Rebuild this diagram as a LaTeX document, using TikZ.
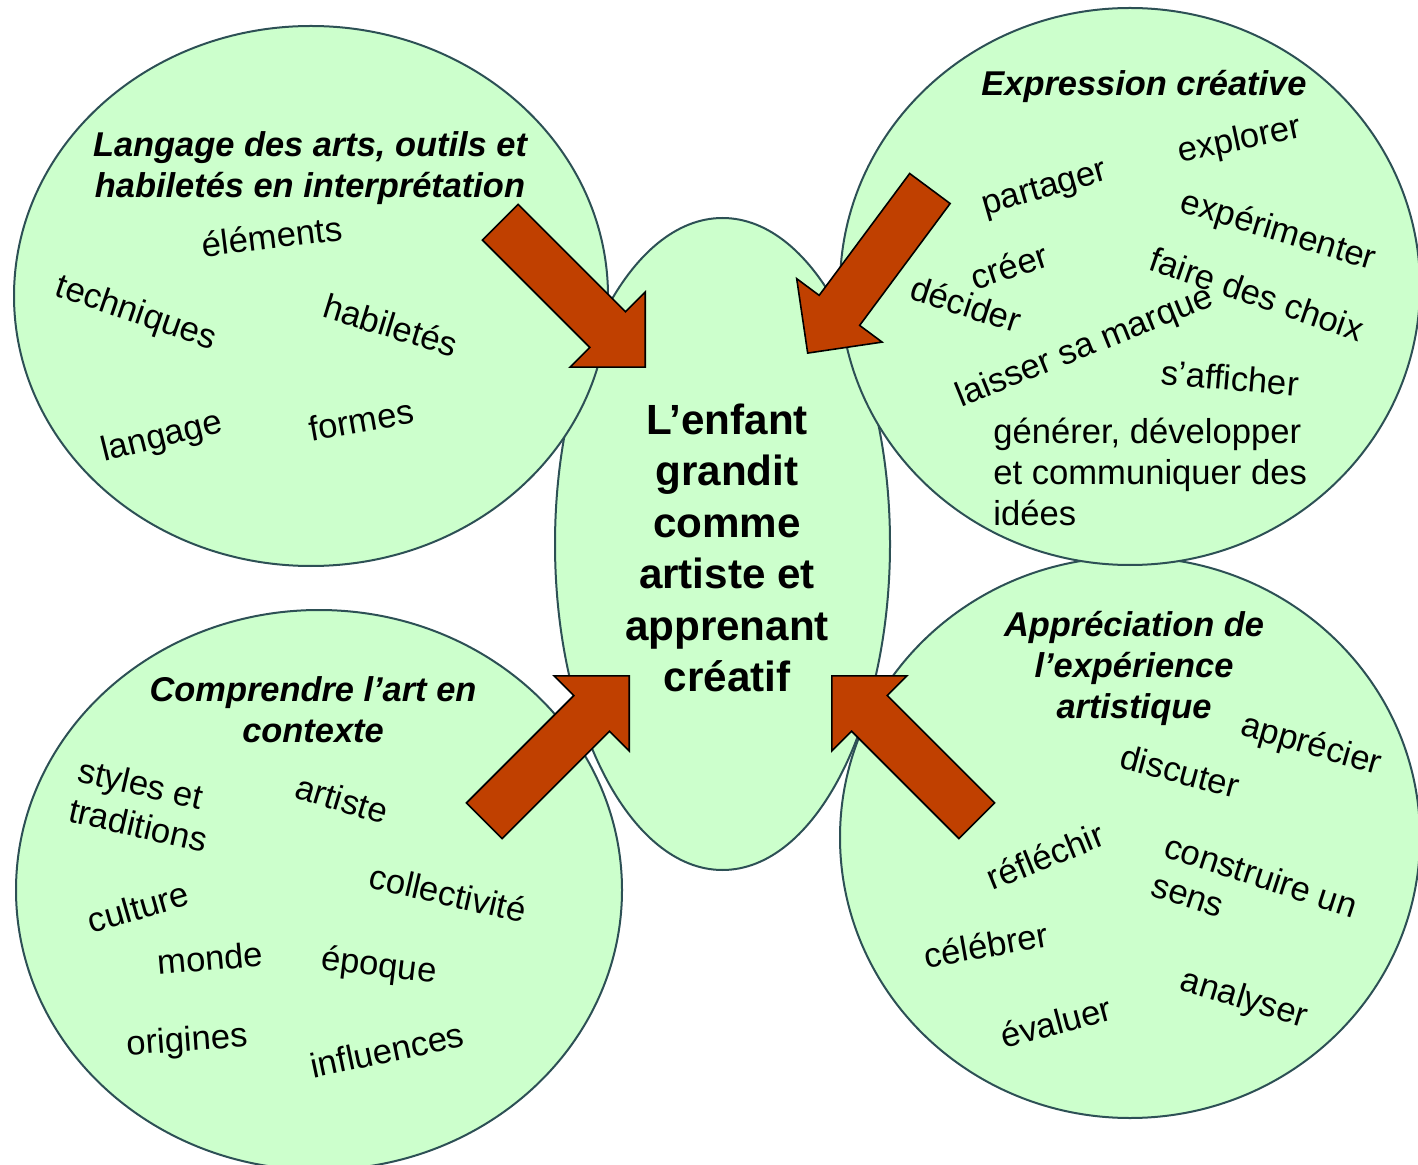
\documentclass[tikz,border=0pt]{standalone}
\usepackage{fontspec}
\setmainfont{Liberation Sans}
\usetikzlibrary{shapes.geometric,shapes.arrows}
\definecolor{bubblegreen}{RGB}{204,255,204}
\definecolor{bubbleline}{RGB}{45,80,85}
\definecolor{rust}{RGB}{192,64,0}

\tikzset{
    bubble/.style={ellipse, draw=bubbleline, fill=bubblegreen, line width=1pt, inner sep=0pt},
    heading/.style={font=\fontsize{17.2}{20.5}\selectfont\bfseries\itshape, align=center, inner sep=0pt},
    word/.style={font=\fontsize{17.3}{20.5}\selectfont, align=left, inner sep=0pt},
    bigarrow/.style={single arrow, draw=black, fill=rust, line width=0.8pt, inner xsep=0pt,
        inner ysep=12.2pt, single arrow head extend=14pt, minimum height=102.5pt, anchor=tip},
}

\begin{document}
\begin{tikzpicture}[x=0.5pt, y=-0.5pt]
    % \draw[help lines, gray] (0,0) grid (1418,1165);
    \useasboundingbox (0,0) rectangle (1418,1165);
    \clip (0,0) rectangle (1418,1165);

    \node[bubble, minimum width=167.5pt, minimum height=326pt] (child) at (722.5,544) {};
    \node[bubble, minimum width=303pt, minimum height=280pt] (context) at (319,890) {};
    \node[bubble, minimum width=290pt, minimum height=280.5pt] (apprec) at (1130,837.5) {};
    \node[bubble, minimum width=297pt, minimum height=270pt] (lang) at (311,296) {};
    \node[bubble, minimum width=290pt, minimum height=278.5pt] (expr) at (1130,286.5) {};

    \node[font=\fontsize{21.1}{25.75}\selectfont\bfseries, align=center, inner sep=0pt] (childtext) at (727,548)
        {L’enfant\\grandit\\comme\\artiste et\\apprenant\\créatif};

    % langage des arts
    \node[heading] (langtitle) at (310,168) {Langage des arts, outils et\\habiletés en interprétation};
    \node[word, rotate=7] (elements) at (272,236) {éléments};
    \node[word, rotate=-19] (techniques) at (136,314) {techniques};
    \node[word, rotate=-17] (habiletes) at (391,325) {habiletés};
    \node[word, rotate=14] (langage) at (162,438) {langage};
    \node[word, rotate=10] (formes) at (361,420) {formes};

    % expression creative
    \node[heading] (exprtitle) at (1144,86) {Expression créative};
    \node[word, rotate=12] (explorer) at (1240,141) {explorer};
    \node[word, rotate=16] (partager) at (1045,190) {partager};
    \node[word, rotate=-17] (experimenter) at (1278,232) {expérimenter};
    \node[word, rotate=18] (creer) at (1009,266) {créer};
    \node[word, rotate=-18] (decider) at (966,304) {décider};
    \node[word, rotate=-19] (choix) at (1257,294) {faire des choix};
    \node[word, rotate=22] (marque) at (1085,348) {laisser sa marque};
    \node[word, rotate=-5] (afficher) at (1230,378) {s’afficher};
    \node[word, anchor=west] (idees) at (993,472) {générer, développer\\et communiquer des\\idées};

    % comprendre l'art
    \node[heading] (contexttitle) at (313,710) {Comprendre l’art en\\contexte};
    \node[word, rotate=-13] (styles) at (143,805) {styles et\\traditions};
    \node[word, rotate=-17] (artiste) at (342,799) {artiste};
    \node[word, rotate=-13] (collectivite) at (448,893) {collectivité};
    \node[word, rotate=16] (culture) at (138,907) {culture};
    \node[word, rotate=5] (monde) at (210,958) {monde};
    \node[word, rotate=-7] (epoque) at (379,967) {époque};
    \node[word, rotate=4] (origines) at (187,1042) {origines};
    \node[word, rotate=12] (influences) at (387,1050) {influences};

    % appreciation
    \node[heading] (apprectitle) at (1134,668) {Appréciation de\\l’expérience\\artistique};
    \node[word, rotate=-16] (apprecier) at (1311,746) {apprécier};
    \node[word, rotate=-15] (discuter) at (1180,771) {discuter};
    \node[word, rotate=22] (reflechir) at (1045,856) {réfléchir};
    \node[word, rotate=-18] (sens) at (1255,895) {construire un\\sens};
    \node[word, rotate=10] (celebrer) at (986,945) {célébrer};
    \node[word, rotate=-17] (analyser) at (1244,1000) {analyser};
    \node[word, rotate=15] (evaluer) at (1056,1022) {évaluer};

    % arrows to the centre
    \node[bigarrow, rotate=-45] (fromlang) at (646,368) {};
    \node[bigarrow, rotate=-126.6] (fromexpr) at (807,354) {};
    \node[bigarrow, rotate=45] (fromcontext) at (630,675) {};
    \node[bigarrow, rotate=135] (fromapprec) at (831,675) {};
\end{tikzpicture}
\end{document}
